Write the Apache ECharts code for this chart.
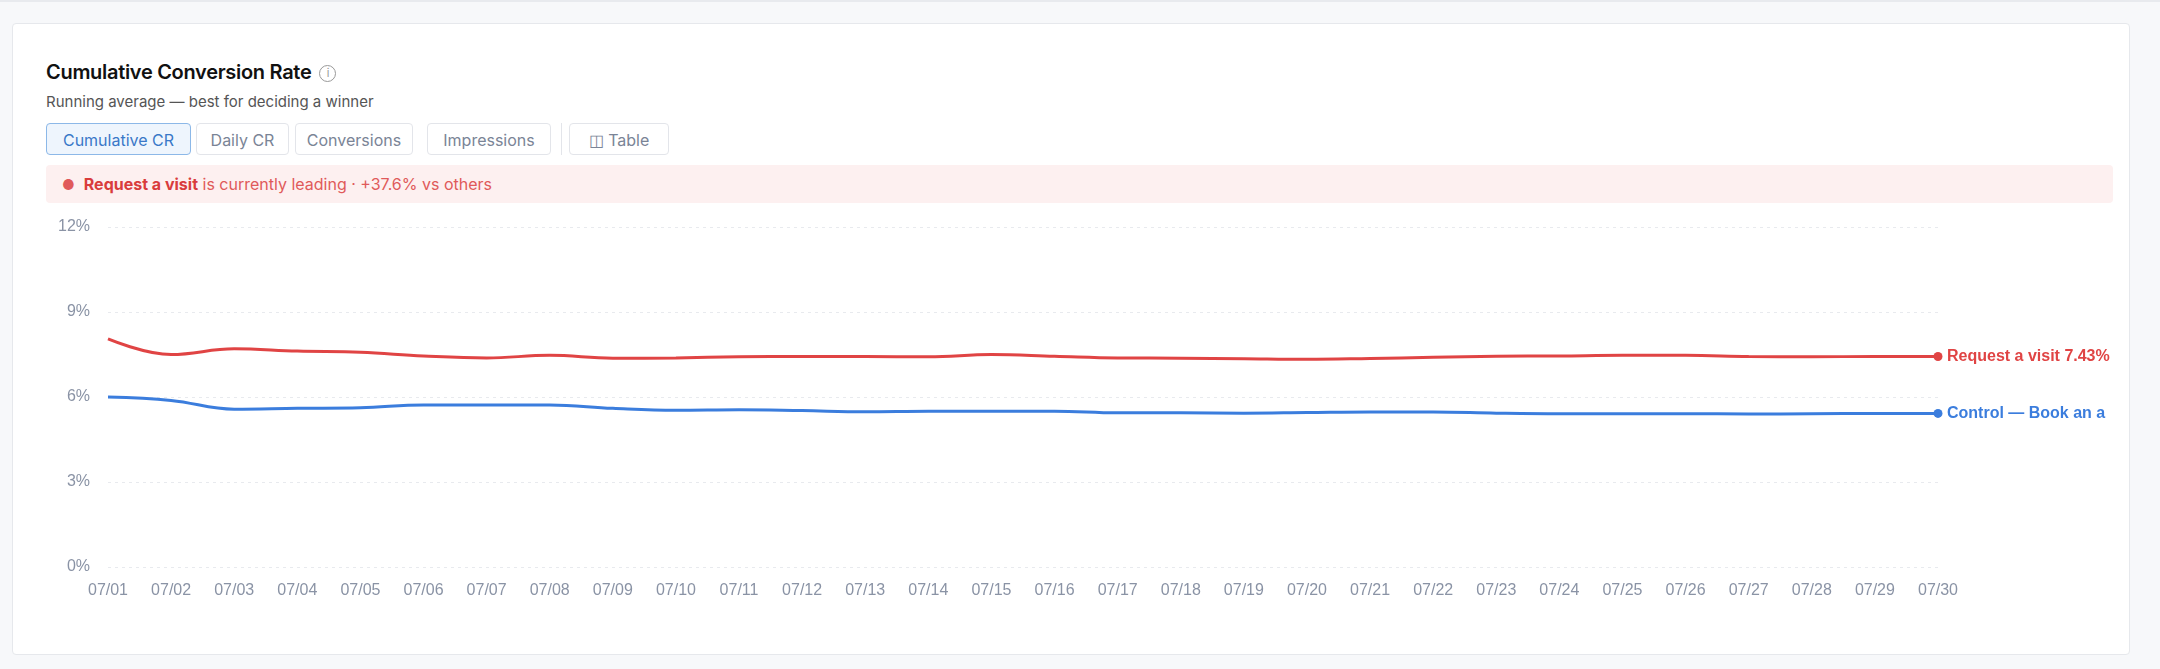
<!DOCTYPE html>
<html><head><meta charset="utf-8">
<script src="https://cdn.jsdelivr.net/npm/echarts@6/dist/echarts.min.js"></script>
<style>
body{margin:0;width:2160px;height:669px;background:#f7f8fa;font-family:Inter,"Noto Sans",sans-serif;position:relative;overflow:hidden}
#top{position:absolute;left:0;top:0;width:2160px;height:2px;background:#e8eaee}
#card{position:absolute;left:12px;top:23px;width:2116px;height:630px;background:#fff;border:1px solid #e6e8ec;border-radius:4px}
#title{position:absolute;left:33px;top:36px;font-size:20px;font-weight:600;color:#111;letter-spacing:-0.3px}
#title span{display:inline-block;width:15px;height:15px;border:1.3px solid #999;border-radius:50%;font-size:11px;text-align:center;line-height:15px;color:#999;margin-left:8px;vertical-align:2px;font-weight:400}
#sub{position:absolute;left:33px;top:68px;font-size:15px;color:#555}
.btn{position:absolute;top:99px;height:32px;line-height:32px;border:1px solid #e3e5ea;border-radius:4px;font-size:16px;color:#7a8496;text-align:center;box-sizing:border-box}
#alert{position:absolute;left:33px;top:141px;width:2067px;height:38px;background:#fdf0f0;border-radius:4px;font-size:16px;color:#e05a5a;line-height:38px}
#alert b{color:#d93c3c}
#chart{position:absolute;left:0;top:190px;width:2116px;height:440px}
</style></head><body>
<div id="top"></div>
<div id="card">
<div id="title">Cumulative Conversion Rate<span>i</span></div>
<div id="sub">Running average — best for deciding a winner</div>
<div class="btn" style="left:33px;width:145px;background:#eef5fd;border-color:#8cb8e8;color:#3a78c8">Cumulative CR</div>
<div class="btn" style="left:183px;width:93px">Daily CR</div>
<div class="btn" style="left:282px;width:118px">Conversions</div>
<div class="btn" style="left:414px;width:124px">Impressions</div>
<div style="position:absolute;left:548px;top:99px;width:1px;height:32px;background:#e3e5ea"></div>
<div class="btn" style="left:556px;width:100px">&#9707; Table</div>
<div id="alert"><span style="margin-left:16px;font-size:14px">●</span>&nbsp; <b>Request a visit</b> is currently leading · +37.6% vs others</div>
<div id="chart"></div>
</div>
<script>
const categories=['07/01','07/02','07/03','07/04','07/05','07/06','07/07','07/08','07/09','07/10','07/11','07/12','07/13','07/14','07/15','07/16','07/17','07/18','07/19','07/20','07/21','07/22','07/23','07/24','07/25','07/26','07/27','07/28','07/29','07/30'];
const requestVisit=[8.05,7.5,7.7,7.62,7.58,7.45,7.38,7.47,7.37,7.38,7.42,7.43,7.43,7.42,7.5,7.44,7.38,7.37,7.35,7.33,7.36,7.4,7.44,7.45,7.47,7.47,7.43,7.42,7.43,7.43];
const control=[6.0,5.88,5.57,5.6,5.62,5.72,5.72,5.72,5.6,5.53,5.55,5.52,5.48,5.5,5.5,5.5,5.44,5.44,5.43,5.45,5.47,5.47,5.43,5.41,5.41,5.41,5.4,5.41,5.42,5.42];
const yTicks=[0,3,6,9,12];
const ch=echarts.init(document.getElementById('chart'));
function ser(name,data,color,label){return {name,type:'line',data,smooth:0.4,showSymbol:false,lineStyle:{width:3,color},itemStyle:{color},
 endLabel:{show:true,formatter:label,color,fontWeight:'bold',fontSize:16,distance:9,width:165,overflow:'truncate',ellipsis:''},
 markPoint:{symbol:'circle',symbolSize:9,label:{show:false},itemStyle:{color},data:[{coord:[categories.length-1,data[data.length-1]]}]}};}
ch.setOption({animation:false,
 grid:{left:95,right:191,top:13,bottom:87},
 xAxis:{type:'category',data:categories,boundaryGap:false,axisLine:{show:false},axisTick:{show:false},axisLabel:{color:'#8a93a5',fontSize:16,margin:16}},
 yAxis:{type:'value',min:yTicks[0],max:yTicks[yTicks.length-1],interval:3,axisLabel:{formatter:'{value}%',color:'#8a93a5',fontSize:16,margin:18},splitLine:{lineStyle:{type:[3,4],color:'#e8eaee'}}},
 series:[ser('Request a visit',requestVisit,'#e04444',()=> 'Request a visit 7.43%'),ser('Control — Book an appointment',control,'#3b7ddd',()=> 'Control — Book an appointment 5.42%')]
});
</script></body></html>
